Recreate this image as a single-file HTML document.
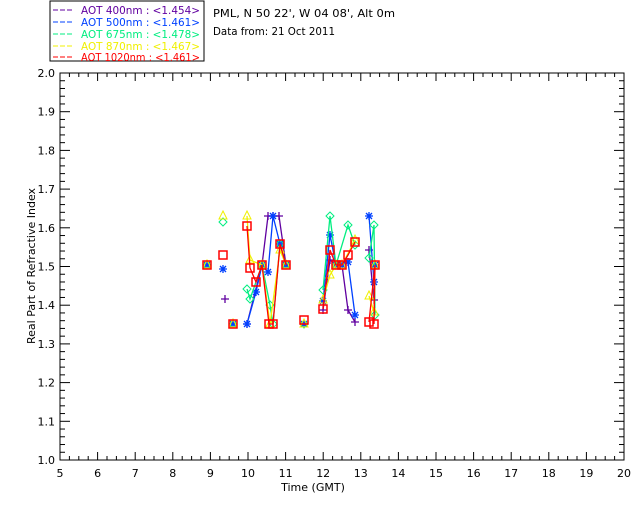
<!DOCTYPE html>
<html><head><style>body{margin:0;background:#fff}svg{display:block}text{font-family:"DejaVu Sans","Liberation Sans",sans-serif;font-size:11px}</style></head>
<body>
<svg id="s" width="640" height="512" xmlns="http://www.w3.org/2000/svg">
<rect x="50" y="1" width="154" height="60" fill="none" stroke="#000"/>
<g>
<line x1="53" y1="10" x2="73" y2="10" stroke="#6000a0" stroke-dasharray="5,2"/><text x="81" y="14" fill="#6000a0" font-size="10" textLength="119" lengthAdjust="spacingAndGlyphs">AOT  400nm : &lt;1.454&gt;</text>
<line x1="53" y1="22" x2="73" y2="22" stroke="#0040ff" stroke-dasharray="5,2"/><text x="81" y="26" fill="#0040ff" font-size="10" textLength="119" lengthAdjust="spacingAndGlyphs">AOT  500nm : &lt;1.461&gt;</text>
<line x1="53" y1="34" x2="73" y2="34" stroke="#00ee80" stroke-dasharray="5,2"/><text x="81" y="38" fill="#00ee80" font-size="10" textLength="119" lengthAdjust="spacingAndGlyphs">AOT  675nm : &lt;1.478&gt;</text>
<line x1="53" y1="46" x2="73" y2="46" stroke="#f0f000" stroke-dasharray="5,2"/><text x="81" y="50" fill="#f0f000" font-size="10" textLength="119" lengthAdjust="spacingAndGlyphs">AOT  870nm : &lt;1.467&gt;</text>
<line x1="53" y1="57" x2="73" y2="57" stroke="#ff0000" stroke-dasharray="5,2"/><text x="81" y="61" fill="#ff0000" font-size="10" textLength="119" lengthAdjust="spacingAndGlyphs">AOT 1020nm : &lt;1.461&gt;</text>
</g>
<text x="213" y="17" font-size="10" textLength="182" lengthAdjust="spacingAndGlyphs">PML, N 50 22', W 04 08', Alt 0m</text>
<text x="213" y="35" font-size="10" textLength="122" lengthAdjust="spacingAndGlyphs">Data from: 21 Oct 2011</text>
<rect x="60" y="73" width="564" height="387" fill="none" stroke="#000"/>
<g id="ax"></g>
<text x="313" y="491" text-anchor="middle" font-size="10">Time (GMT)</text>
<text transform="translate(35,266) rotate(-90)" text-anchor="middle" font-size="10">Real Part of Refractive Index</text>
<g id="d"></g>
</svg>
<script>
var ns="http://www.w3.org/2000/svg",ax=document.getElementById('ax'),d=document.getElementById('d');
function el(p,t,a,txt){var e=document.createElementNS(ns,t);for(var k in a)e.setAttribute(k,a[k]);if(txt!==undefined)e.textContent=txt;p.appendChild(e);return e;}
for(var h=5;h<=20;h++){var x=60+(h-5)*37.6;el(ax,'line',{x1:x,y1:460,x2:x,y2:452,stroke:'#000'});el(ax,'line',{x1:x,y1:73,x2:x,y2:81,stroke:'#000'});el(ax,'text',{x:x,y:477,'text-anchor':'middle','font-size':10},h);
if(h<20)for(var m=1;m<4;m++){var xm=x+m*9.4;el(ax,'line',{x1:xm,y1:460,x2:xm,y2:456,stroke:'#000'});el(ax,'line',{x1:xm,y1:73,x2:xm,y2:77,stroke:'#000'});}}
for(var i=0;i<=10;i++){var y=460-i*38.7;el(ax,'line',{x1:60,y1:y,x2:70,y2:y,stroke:'#000'});el(ax,'line',{x1:614,y1:y,x2:624,y2:y,stroke:'#000'});el(ax,'text',{x:55,y:y+4,'text-anchor':'end','font-size':10},(1+i/10).toFixed(1));
if(i<10)for(var m=1;m<5;m++){var ym=y-m*7.74;el(ax,'line',{x1:60,y1:ym,x2:65,y2:ym,stroke:'#000'});el(ax,'line',{x1:619,y1:ym,x2:624,y2:ym,stroke:'#000'});}}
var S=[
['#6000a0','plus',[[[225,299]],[[247,324],[262,265],[268,216],[273,216],[279,216],[286,265]],[[304,324]],[[323,310],[330,260],[336,265],[342,265],[348,310],[355,322]],[[369,250],[374,300],[375,265]]]],
['#0040ff','star',[[[207,265]],[[223,269]],[[233,324]],[[247,324],[256,292],[262,265],[268,272],[273,216],[280,244],[286,265]],[[304,324]],[[323,301],[330,235],[336,265],[342,265],[348,262],[355,315]],[[369,216],[374,282],[375,265]]]],
['#00ee80','dia',[[[207,265]],[[223,222]],[[233,324]],[[247,289],[250,299],[262,265],[270,305],[273,324],[280,244],[286,265]],[[304,324]],[[323,290],[330,216],[336,265],[348,225],[355,245]],[[369,258],[374,225],[375,315]]]],
['#f0f000','tri',[[[207,265]],[[223,216]],[[233,324]],[[247,216],[250,260],[262,265],[270,324],[280,250],[286,265]],[[304,324]],[[323,300],[330,275],[336,265],[342,265],[355,240]],[[369,296],[374,312],[375,265]]]],
['#ff0000','sq',[[[207,265]],[[223,255]],[[233,324]],[[247,226],[250,268],[256,282],[262,265],[269,324],[273,324],[280,244],[286,265]],[[304,320]],[[323,309],[330,250],[336,265],[342,265],[348,255],[355,242]],[[369,322],[375,265],[374,324]]]]];
S.forEach(function(s){var c=s[0];s[2].forEach(function(seg){if(seg.length>1)el(d,'polyline',{points:seg.map(p=>p.join(',')).join(' '),fill:'none',stroke:c,'stroke-width':1.3});
seg.forEach(function(p){var x=p[0],y=p[1];
if(s[1]=='sq')el(d,'rect',{x:x-4,y:y-4,width:8,height:8,fill:'none',stroke:c,'stroke-width':1.5});
else if(s[1]=='dia')el(d,'polygon',{points:(x)+','+(y-4)+' '+(x+4)+','+y+' '+x+','+(y+4)+' '+(x-4)+','+y,fill:'none',stroke:c});
else if(s[1]=='tri')el(d,'polygon',{points:x+','+(y-5)+' '+(x+4)+','+(y+3)+' '+(x-4)+','+(y+3),fill:'none',stroke:c});
else if(s[1]=='plus')el(d,'path',{d:'M'+(x-4)+' '+y+'h8M'+x+' '+(y-4)+'v8',stroke:c,'stroke-width':1.3});
else el(d,'path',{d:'M'+(x-4)+' '+y+'h8M'+x+' '+(y-4)+'v8M'+(x-3)+' '+(y-3)+'l6 6M'+(x+3)+' '+(y-3)+'l-6 6',stroke:c,'stroke-width':1.3});});});});
</script>
</body></html>
